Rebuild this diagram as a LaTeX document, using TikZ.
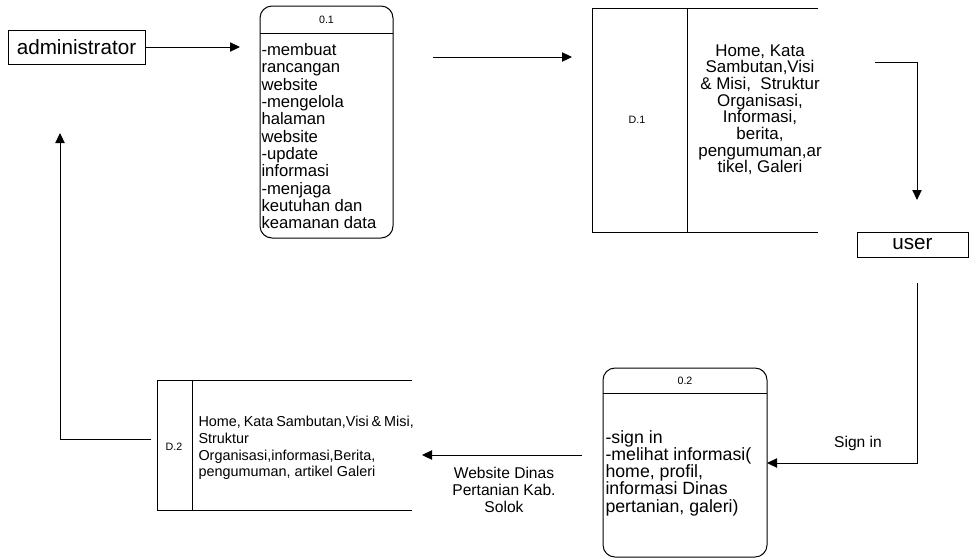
\documentclass[tikz,border=0pt]{standalone}
\usepackage{fontspec}
\setmainfont{Liberation Sans}
\usetikzlibrary{arrows.meta,positioning}
\begin{document}
\begin{tikzpicture}[x=0.75pt, y=-0.75pt, line width=0.75pt,
  flow/.style={draw, arrows={-Triangle[length=7.5pt,width=7pt]}},
  extbox/.style={draw, inner sep=0pt, font=\fontsize{15.5}{18}\selectfont},
  numlbl/.style={inner sep=0pt, font=\fontsize{8}{9}\selectfont},
  bodytxt/.style={inner sep=0pt, align=left, font=\fontsize{12.5}{13}\selectfont}]
\useasboundingbox (0,0) rectangle (969,558);
% Entitas
\node[extbox, minimum width=102.75pt, minimum height=25.5pt] (admin) at (76.5,47) {administrator};
\node[extbox, minimum width=83.25pt, minimum height=18.75pt] (user) at (912.5,244.5) {user};
% Proses 0.1
\draw[rounded corners=9pt] (260,6) rectangle (393,238);
\draw (260,33) -- (393,33);
\node[numlbl] (p1no) at (326.5,20) {0.1};
\node[bodytxt, anchor=north west] (p1) at (261,43) {-membuat\\rancangan\\website\\-mengelola\\halaman\\website\\-update\\informasi\\-menjaga\\keutuhan dan\\keamanan data};
% Data store D.1
\draw (818,8) -- (592,8) -- (592,232) -- (818,232);
\draw (687,8) -- (687,232);
\node[numlbl] (d1no) at (637,120) {D.1};
\node[bodytxt, align=center, anchor=north, font=\fontsize{12.7}{12.5}\selectfont] (d1) at (760,44) {Home, Kata\\Sambutan,Visi\\\& Misi,\ \ Struktur\\Organisasi,\\Informasi,\\berita,\\pengumuman,ar\\tikel, Galeri};
% Proses 0.2
\draw[rounded corners=9pt] (603,368) rectangle (767,557);
\draw (603,393) -- (767,393);
\node[numlbl] (p2no) at (685,381) {0.2};
\node[bodytxt, anchor=north west, font=\fontsize{13.3}{12.9}\selectfont] (p2) at (605,430) {-sign in\\-melihat informasi(\\home, profil,\\informasi Dinas\\pertanian, galeri)};
% Data store D.2
\draw (412,380) -- (157,380) -- (157,510) -- (412,510);
\draw (192,380) -- (192,510);
\node[numlbl] (d2no) at (174,447) {D.2};
\node[bodytxt, anchor=north west, font=\fontsize{10.8}{12.5}\selectfont] (d2) at (198,416) {\spaceskip=0.2em\relax Home, Kata Sambutan,Visi \& Misi,\\Struktur\\Organisasi,informasi,Berita,\\pengumuman, artikel Galeri};
% Label alur
\node[inner sep=0pt, font=\fontsize{11.7}{12.75}\selectfont] (signlbl) at (858,443) {Sign in};
\node[inner sep=0pt, align=center, font=\fontsize{11.7}{12.75}\selectfont] (weblbl) at (504,490) {Website Dinas\\Pertanian Kab.\\Solok};
% Titik ujung alur
\coordinate (p1in) at (240,47);
\coordinate (p1out) at (433,57);
\coordinate (d1in) at (572,57);
\coordinate (d1out) at (875,62);
\coordinate (userin) at (917,200);
\coordinate (userout) at (917,283);
\coordinate (p2in) at (767,463);
\coordinate (p2out) at (582,455);
\coordinate (d2in) at (422,455);
\coordinate (d2out) at (151,439);
\coordinate (adminin) at (60,133);
% Alur data
\draw[flow] (admin.east) -- (p1in);
\draw[flow] (p1out) -- (d1in);
\draw[flow] (d1out) -| (userin);
\draw[flow] (userout) |- (p2in);
\draw[flow] (p2out) -- (d2in);
\draw[flow] (d2out) -| (adminin);
\end{tikzpicture}
\end{document}
